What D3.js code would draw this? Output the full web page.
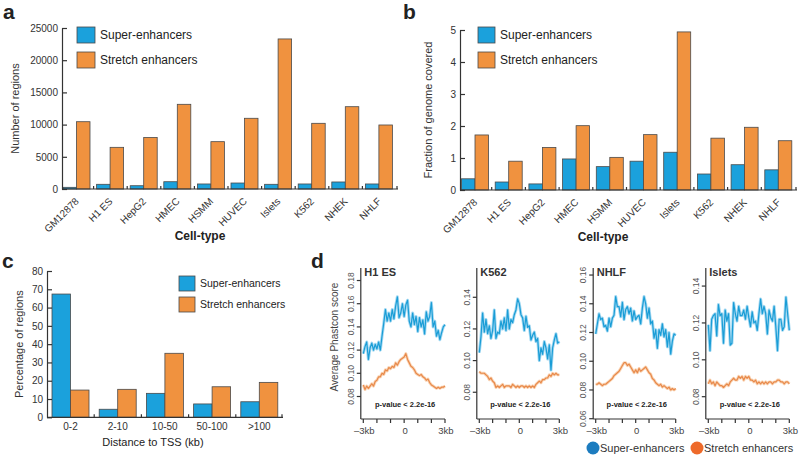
<!DOCTYPE html>
<html><head><meta charset="utf-8">
<script src="https://cdn.jsdelivr.net/npm/d3@7"></script>
<style>
body{margin:0;background:#fff;}
svg{display:block;font-family:"Liberation Sans",Arial,Helvetica,sans-serif;}
</style>
</head><body>
<svg id="chart" width="800" height="457"></svg>
<script>
// ---------------- DATA ----------------
const seriesNames = ["Super-enhancers", "Stretch enhancers"];
const cellTypes = ["GM12878","H1 ES","HepG2","HMEC","HSMM","HUVEC","Islets","K562","NHEK","NHLF"];
const superCounts   = [260, 730, 510, 1130, 780, 930, 730, 780, 1090, 780];
const stretchCounts = [10450, 6470, 8000, 13150, 7350, 10980, 23300, 10200, 12780, 9940];
const countTicks = [0, 5000, 10000, 15000, 20000, 25000];

const superFraction   = [0.35, 0.25, 0.19, 0.97, 0.73, 0.90, 1.18, 0.50, 0.79, 0.63];
const stretchFraction = [1.72, 0.90, 1.33, 2.01, 1.02, 1.73, 4.94, 1.62, 1.96, 1.54];
const fractionTicks = [0, 1, 2, 3, 4, 5];

const tssBins = ["0-2", "2-10", "10-50", "50-100", ">100"];
const superTss   = [67.4, 4.4, 13.1, 7.3, 8.5];
const stretchTss = [14.9, 15.3, 35.0, 16.7, 19.1];
const percentTicks = [0, 10, 20, 30, 40, 50, 60, 70, 80];

const profileCells = ["H1 ES", "K562", "NHLF", "Islets"];
const profileTickLabels = ["\u20133kb", "0", "3kb"];
const profileTickKb = [-3, 0, 3];
const profileMinorKb = [-3, -2, -1, 0, 1, 2, 3];
const profileYTicks = [
  [0.08, 0.10, 0.12, 0.14, 0.16, 0.18],
  [0.08, 0.10, 0.12, 0.14],
  [0.06, 0.08, 0.10, 0.12, 0.14, 0.16],
  [0.08, 0.10, 0.12, 0.14]
];
const profileYDomains = [
  [0.0606, 0.1908],
  [0.0631, 0.1585],
  [0.0598, 0.1649],
  [0.0679, 0.1498]
];
// 49 positions from -3kb to 3kb
const h1Super = [0.117,0.123,0.127,0.112,0.122,0.126,0.120,0.125,0.121,0.127,0.120,0.132,0.143,0.155,0.145,0.152,0.145,0.155,0.147,0.158,0.166,0.148,0.152,0.160,0.149,0.159,0.163,0.145,0.140,0.152,0.142,0.149,0.136,0.148,0.140,0.146,0.134,0.153,0.145,0.149,0.161,0.140,0.145,0.132,0.137,0.129,0.135,0.140,0.142];
const h1Stretch = [0.090,0.086,0.089,0.087,0.089,0.091,0.089,0.093,0.094,0.097,0.097,0.100,0.099,0.103,0.102,0.105,0.104,0.106,0.105,0.109,0.107,0.110,0.112,0.113,0.114,0.117,0.112,0.109,0.106,0.105,0.103,0.100,0.099,0.098,0.099,0.097,0.096,0.094,0.095,0.092,0.090,0.089,0.088,0.087,0.088,0.087,0.088,0.088,0.089];
const k562Super = [0.105,0.115,0.130,0.118,0.126,0.117,0.122,0.114,0.119,0.132,0.114,0.118,0.117,0.125,0.120,0.127,0.119,0.132,0.120,0.126,0.124,0.129,0.132,0.139,0.136,0.129,0.127,0.119,0.128,0.121,0.122,0.113,0.116,0.118,0.112,0.114,0.100,0.108,0.104,0.112,0.108,0.101,0.110,0.094,0.108,0.113,0.117,0.111,0.112];
const k562Stretch = [0.093,0.092,0.092,0.092,0.091,0.090,0.088,0.089,0.087,0.086,0.083,0.084,0.083,0.084,0.085,0.083,0.084,0.084,0.084,0.083,0.085,0.084,0.083,0.084,0.083,0.084,0.084,0.083,0.084,0.083,0.084,0.083,0.084,0.083,0.085,0.086,0.087,0.086,0.088,0.088,0.089,0.089,0.091,0.090,0.092,0.091,0.092,0.091,0.091];
const nhlfSuper = [0.119,0.126,0.133,0.129,0.130,0.124,0.125,0.121,0.130,0.124,0.130,0.132,0.145,0.138,0.138,0.131,0.141,0.129,0.136,0.138,0.133,0.137,0.128,0.135,0.129,0.131,0.132,0.126,0.137,0.145,0.140,0.130,0.137,0.126,0.128,0.116,0.122,0.109,0.122,0.118,0.126,0.117,0.122,0.110,0.120,0.105,0.114,0.119,0.118];
const nhlfStretch = [0.084,0.084,0.085,0.084,0.083,0.084,0.084,0.085,0.086,0.087,0.088,0.090,0.091,0.092,0.093,0.095,0.097,0.099,0.099,0.097,0.098,0.096,0.094,0.092,0.094,0.092,0.095,0.093,0.094,0.095,0.096,0.094,0.092,0.091,0.088,0.087,0.085,0.084,0.083,0.084,0.082,0.083,0.082,0.081,0.082,0.080,0.081,0.080,0.081];
const isletsSuper = [0.119,0.105,0.122,0.124,0.125,0.113,0.130,0.124,0.125,0.109,0.127,0.121,0.125,0.108,0.109,0.131,0.125,0.121,0.129,0.124,0.124,0.127,0.122,0.129,0.123,0.118,0.126,0.120,0.121,0.116,0.125,0.133,0.125,0.129,0.125,0.114,0.127,0.123,0.121,0.129,0.118,0.105,0.122,0.122,0.116,0.118,0.134,0.125,0.116];
const isletsStretch = [0.087,0.089,0.087,0.088,0.086,0.088,0.087,0.086,0.086,0.085,0.086,0.087,0.086,0.088,0.089,0.090,0.089,0.089,0.091,0.090,0.091,0.089,0.091,0.090,0.091,0.089,0.089,0.088,0.089,0.087,0.088,0.087,0.088,0.087,0.088,0.087,0.088,0.088,0.087,0.088,0.088,0.089,0.089,0.088,0.088,0.087,0.088,0.088,0.087];
const profileSuper = [h1Super, k562Super, nhlfSuper, isletsSuper];
const profileStretch = [h1Stretch, k562Stretch, nhlfStretch, isletsStretch];

// ---------------- STYLE ----------------
const BLUE = "#1ba1dc", ORANGE = "#f0923f", BAR_STROKE = "#4a4a4a";
const AX = "#333", TXT = "#333";
const LINE_BLUE = "#1a9dd6", HALO_BLUE = "#8fd0ef";
const LINE_OR = "#e8894a", HALO_OR = "#f8c9a2";
const LEG_BLUE = "#1c7cbf", LEG_OR = "#ee6a2a";

const svg = d3.select("#chart");

function styleAxis(g) {
  g.selectAll("path.domain").attr("stroke", AX).attr("stroke-width", 1.2);
  g.selectAll(".tick line").attr("stroke", AX).attr("stroke-width", 1.2);
  g.selectAll(".tick text").attr("fill", TXT).attr("font-family", "Liberation Sans, Arial, sans-serif");
}

// ---------------- BAR PANELS ----------------
function barPanel(o) {
  const g = svg.append("g");
  const x = d3.scaleBand().domain(o.cats).range([o.bandL, o.bandR]);
  const y = d3.scaleLinear().domain([0, o.max]).range([o.yB, o.yT]);
  const sub = d3.scaleBand().domain([0, 1]).range([0, o.pairW]);
  const vals = [o.s1, o.s2];
  const cols = [BLUE, ORANGE];
  o.cats.forEach((c, i) => {
    [0, 1].forEach(j => {
      const v = vals[j][i];
      g.append("rect")
        .attr("x", x(c) + o.off + sub(j))
        .attr("y", y(v))
        .attr("width", sub.bandwidth())
        .attr("height", y(0) - y(v))
        .attr("fill", cols[j])
        .attr("stroke", BAR_STROKE)
        .attr("stroke-width", 0.8);
    });
  });
  // y axis
  const ya = g.append("g").attr("transform", `translate(${o.axX},0)`)
    .call(d3.axisLeft(y).tickValues(o.ticks).tickSize(-5).tickSizeOuter(0).tickPadding(4).tickFormat(d3.format("d")));
  ya.selectAll(".tick text").attr("font-size", o.tickFs);
  styleAxis(ya);
  // x axis line
  g.append("line").attr("x1", o.axX).attr("x2", o.axR).attr("y1", y(0)).attr("y2", y(0))
    .attr("stroke", AX).attr("stroke-width", 1.2);
  o.cats.forEach((c, i) => {
    if (i === 0) return;
    g.append("line").attr("x1", x(c)).attr("x2", x(c)).attr("y1", y(0)).attr("y2", y(0) - 3)
      .attr("stroke", AX).attr("stroke-width", 1.2);
  });
  g.append("line").attr("x1", o.axR - 1).attr("x2", o.axR - 1).attr("y1", y(0)).attr("y2", y(0) - 3)
      .attr("stroke", AX).attr("stroke-width", 1.2);
  // x labels
  o.cats.forEach(c => {
    const cx = x(c) + o.off + o.pairW / 2;
    if (o.rotate) {
      g.append("text").attr("transform", `translate(${cx + 3},${y(0) + 13}) rotate(-45)`)
        .attr("text-anchor", "end").attr("font-size", o.catFs).attr("fill", TXT).text(c);
    } else {
      g.append("text").attr("x", cx).attr("y", y(0) + 13)
        .attr("text-anchor", "middle").attr("font-size", o.catFs).attr("fill", TXT).text(c);
    }
  });
  // axis titles
  g.append("text").attr("x", o.xTitleX).attr("y", o.xTitleY).attr("text-anchor", "middle")
    .attr("font-size", o.xTitleFs).attr("font-weight", o.xTitleBold ? "bold" : "normal").attr("fill", "#222").text(o.xTitle);
  g.append("text").attr("transform", `translate(${o.yTitleX},${(y(0) + y(o.max)) / 2}) rotate(-90)`)
    .attr("text-anchor", "middle").attr("font-size", 11).attr("fill", TXT).text(o.yTitle);
  // legend
  seriesNames.forEach((s, j) => {
    g.append("rect").attr("x", o.legX).attr("y", o.legY + j * o.legStep).attr("width", o.legW).attr("height", o.legH)
      .attr("fill", cols[j]).attr("stroke", BAR_STROKE).attr("stroke-width", 0.8);
    g.append("text").attr("x", o.legX + o.legW + 5).attr("y", o.legY + j * o.legStep + o.legH / 2)
      .attr("dy", "0.35em").attr("font-size", o.legFs).attr("fill", "#222").text(s);
  });
}

barPanel({cats: cellTypes, s1: superCounts, s2: stretchCounts, max: 25000, ticks: countTicks,
  bandL: 60, bandR: 396, off: 3, pairW: 27, yB: 189, yT: 28, axX: 62, axR: 398, rotate: true,
  tickFs: 10, catFs: 10, xTitle: "Cell-type", xTitleX: 200, xTitleY: 240, xTitleFs: 12, xTitleBold: true,
  yTitle: "Number of regions", yTitleX: 19, legX: 77, legY: 27, legStep: 25, legW: 18, legH: 16, legFs: 12});

barPanel({cats: cellTypes, s1: superFraction, s2: stretchFraction, max: 5, ticks: fractionTicks,
  bandL: 458, bandR: 795, off: 3.5, pairW: 27, yB: 190, yT: 30, axX: 460, axR: 797, rotate: true,
  tickFs: 10, catFs: 10, xTitle: "Cell-type", xTitleX: 603, xTitleY: 241, xTitleFs: 12, xTitleBold: true,
  yTitle: "Fraction of genome covered", yTitleX: 432, legX: 478, legY: 27, legStep: 25, legW: 17, legH: 16, legFs: 12});

barPanel({cats: tssBins, s1: superTss, s2: stretchTss, max: 80, ticks: percentTicks,
  bandL: 47, bandR: 283, off: 5, pairW: 37, yB: 417.3, yT: 271, axX: 47, axR: 283, rotate: false,
  tickFs: 10, catFs: 10, xTitle: "Distance to TSS (kb)", xTitleX: 153, xTitleY: 446, xTitleFs: 11, xTitleBold: false,
  yTitle: "Percentage of regions", yTitleX: 23, legX: 179, legY: 276, legStep: 21, legW: 16, legH: 15, legFs: 10.5});

// ---------------- PROFILE PANELS ----------------
const profileXRanges = [[363.3, 445], [479.3, 559.3], [595.7, 675.7], [708.3, 789.3]];
const kbPos = d3.range(49).map(k => -3 + k * 0.125);
const yBottom = 419, yTop = 268;

profileCells.forEach((name, i) => {
  const g = svg.append("g");
  const x = d3.scaleLinear().domain([-3, 3]).range(profileXRanges[i]);
  const y = d3.scaleLinear().domain(profileYDomains[i]).range([yBottom, yTop]);
  const axX = x(-3) - 2.5;
  // axes
  g.append("line").attr("x1", axX).attr("x2", axX).attr("y1", yTop).attr("y2", yBottom).attr("stroke", AX).attr("stroke-width", 1.2);
  g.append("line").attr("x1", axX).attr("x2", x(3)).attr("y1", yBottom).attr("y2", yBottom).attr("stroke", AX).attr("stroke-width", 1.2);
  profileYTicks[i].forEach(t => {
    g.append("line").attr("x1", axX - 4).attr("x2", axX).attr("y1", y(t)).attr("y2", y(t)).attr("stroke", AX).attr("stroke-width", 1.2);
    g.append("text").attr("transform", `translate(${axX - 7},${y(t)}) rotate(-90)`).attr("text-anchor", "middle")
      .attr("font-size", 8.5).attr("fill", "#555").text(d3.format(".2f")(t));
  });
  profileMinorKb.forEach(t => {
    g.append("line").attr("x1", x(t)).attr("x2", x(t)).attr("y1", yBottom).attr("y2", yBottom + 4).attr("stroke", AX).attr("stroke-width", 1.2);
  });
  profileTickKb.forEach((t, k) => {
    g.append("text").attr("x", x(t) + 1).attr("y", yBottom + 15).attr("text-anchor", "middle")
      .attr("font-size", 9.5).attr("fill", "#444").text(profileTickLabels[k]);
  });
  // lines
  const line = d3.line().x((d, k) => x(kbPos[k])).y(d => y(d)).curve(d3.curveLinear);
  [[profileStretch[i], LINE_OR, HALO_OR], [profileSuper[i], LINE_BLUE, HALO_BLUE]].forEach(([data, c, h]) => {
    g.append("path").attr("d", line(data)).attr("fill", "none").attr("stroke", h).attr("stroke-width", 3).attr("stroke-linejoin", "round").attr("opacity", 0.8);
    g.append("path").attr("d", line(data)).attr("fill", "none").attr("stroke", c).attr("stroke-width", 1.2).attr("stroke-linejoin", "round");
  });
  // title and p-value
  g.append("text").attr("x", x(-3) + 1).attr("y", 276).attr("font-size", 11).attr("font-weight", "bold").attr("fill", "#333").text(name);
  g.append("text").attr("x", x(0) + 1).attr("y", 406.5).attr("text-anchor", "middle").attr("font-size", 7.5)
    .attr("font-weight", "bold").attr("fill", "#222").text("p-value < 2.2e-16");
});

svg.append("text").attr("transform", "translate(338,337) rotate(-90)").attr("text-anchor", "middle")
  .attr("font-size", 10).attr("fill", "#444").text("Average Phastcon score");

// bottom legend
[[593, LEG_BLUE, seriesNames[0]], [697, LEG_OR, seriesNames[1]]].forEach(([cx, c, t]) => {
  svg.append("circle").attr("cx", cx).attr("cy", 448).attr("r", 6.5).attr("fill", c);
  svg.append("text").attr("x", cx + 7).attr("y", 448).attr("dy", "0.35em").attr("font-size", 11).attr("fill", "#333").text(t);
});

// panel letters
[["a", 3, 19], ["b", 403, 19], ["c", 2, 268], ["d", 311, 268]].forEach(([t, xx, yy]) => {
  svg.append("text").attr("x", xx).attr("y", yy).attr("font-size", 21).attr("font-weight", "bold").attr("fill", "#222").text(t);
});
</script>
</body></html>
